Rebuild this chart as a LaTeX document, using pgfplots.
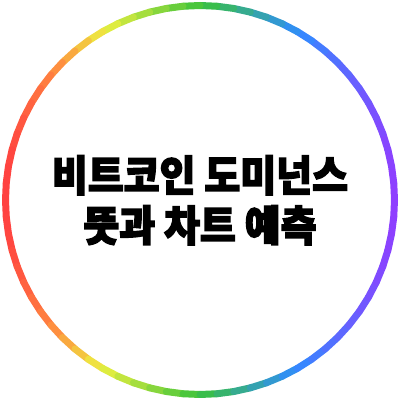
\documentclass[border=0pt]{standalone}
\usepackage{fontspec}
\usepackage{pgfplots}
\pgfplotsset{compat=1.18}
\newfontfamily\krfont{Noto Sans CJK KR}[BoldFeatures={FakeBold=3.5}]

\begin{document}
\begin{tikzpicture}
\begin{axis}[
    name=ax,
    width=400pt, height=400pt,
    scale only axis,
    xmin=-1.0283, xmax=1.0283,
    ymin=-1.0283, ymax=1.0283,
    hide axis,
    clip=false,
    colormap={ring}{
        rgb255(0)=(255,64,64);
        rgb255(1)=(255,138,64);
        rgb255(2)=(236,240,64);
        rgb255(4)=(58,194,58);
        rgb255(6)=(48,140,255);
        rgb255(8)=(143,63,255)
    },
    point meta min=-1, point meta max=1,
]
% ring, coloured by x position
\addplot[mesh, point meta=x, line width=7pt, line cap=round] coordinates {
    (1.0000,0.0000) (0.9962,0.0872) (0.9848,0.1736) (0.9659,0.2588)
    (0.9397,0.3420) (0.9063,0.4226) (0.8660,0.5000) (0.8192,0.5736)
    (0.7660,0.6428) (0.7071,0.7071) (0.6428,0.7660) (0.5736,0.8192)
    (0.5000,0.8660) (0.4226,0.9063) (0.3420,0.9397) (0.2588,0.9659)
    (0.1736,0.9848) (0.0872,0.9962) (0.0000,1.0000)
    (-0.0872,0.9962) (-0.1736,0.9848) (-0.2588,0.9659) (-0.3420,0.9397)
    (-0.4226,0.9063) (-0.5000,0.8660) (-0.5736,0.8192) (-0.6428,0.7660)
    (-0.7071,0.7071) (-0.7660,0.6428) (-0.8192,0.5736) (-0.8660,0.5000)
    (-0.9063,0.4226) (-0.9397,0.3420) (-0.9659,0.2588) (-0.9848,0.1736)
    (-0.9962,0.0872) (-1.0000,0.0000)
    (-0.9962,-0.0872) (-0.9848,-0.1736) (-0.9659,-0.2588) (-0.9397,-0.3420)
    (-0.9063,-0.4226) (-0.8660,-0.5000) (-0.8192,-0.5736) (-0.7660,-0.6428)
    (-0.7071,-0.7071) (-0.6428,-0.7660) (-0.5736,-0.8192) (-0.5000,-0.8660)
    (-0.4226,-0.9063) (-0.3420,-0.9397) (-0.2588,-0.9659) (-0.1736,-0.9848)
    (-0.0872,-0.9962) (0.0000,-1.0000)
    (0.0872,-0.9962) (0.1736,-0.9848) (0.2588,-0.9659) (0.3420,-0.9397)
    (0.4226,-0.9063) (0.5000,-0.8660) (0.5736,-0.8192) (0.6428,-0.7660)
    (0.7071,-0.7071) (0.7660,-0.6428) (0.8192,-0.5736) (0.8660,-0.5000)
    (0.9063,-0.4226) (0.9397,-0.3420) (0.9659,-0.2588) (0.9848,-0.1736)
    (0.9962,-0.0872) (1.0000,0.0000)
};
\node[anchor=base, inner sep=0pt, yscale=1.08, font=\krfont\bfseries\fontsize{39}{39}\selectfont]
    at (axis cs:0,0.046) {비트코인 도미넌스};
\node[anchor=base, inner sep=0pt, yscale=1.08, font=\krfont\bfseries\fontsize{39}{39}\selectfont]
    at (axis cs:0,-0.211) {뜻과 차트 예측};
\end{axis}
\pgfresetboundingbox
\path (ax.south west) rectangle (ax.north east);
\end{tikzpicture}
\end{document}
